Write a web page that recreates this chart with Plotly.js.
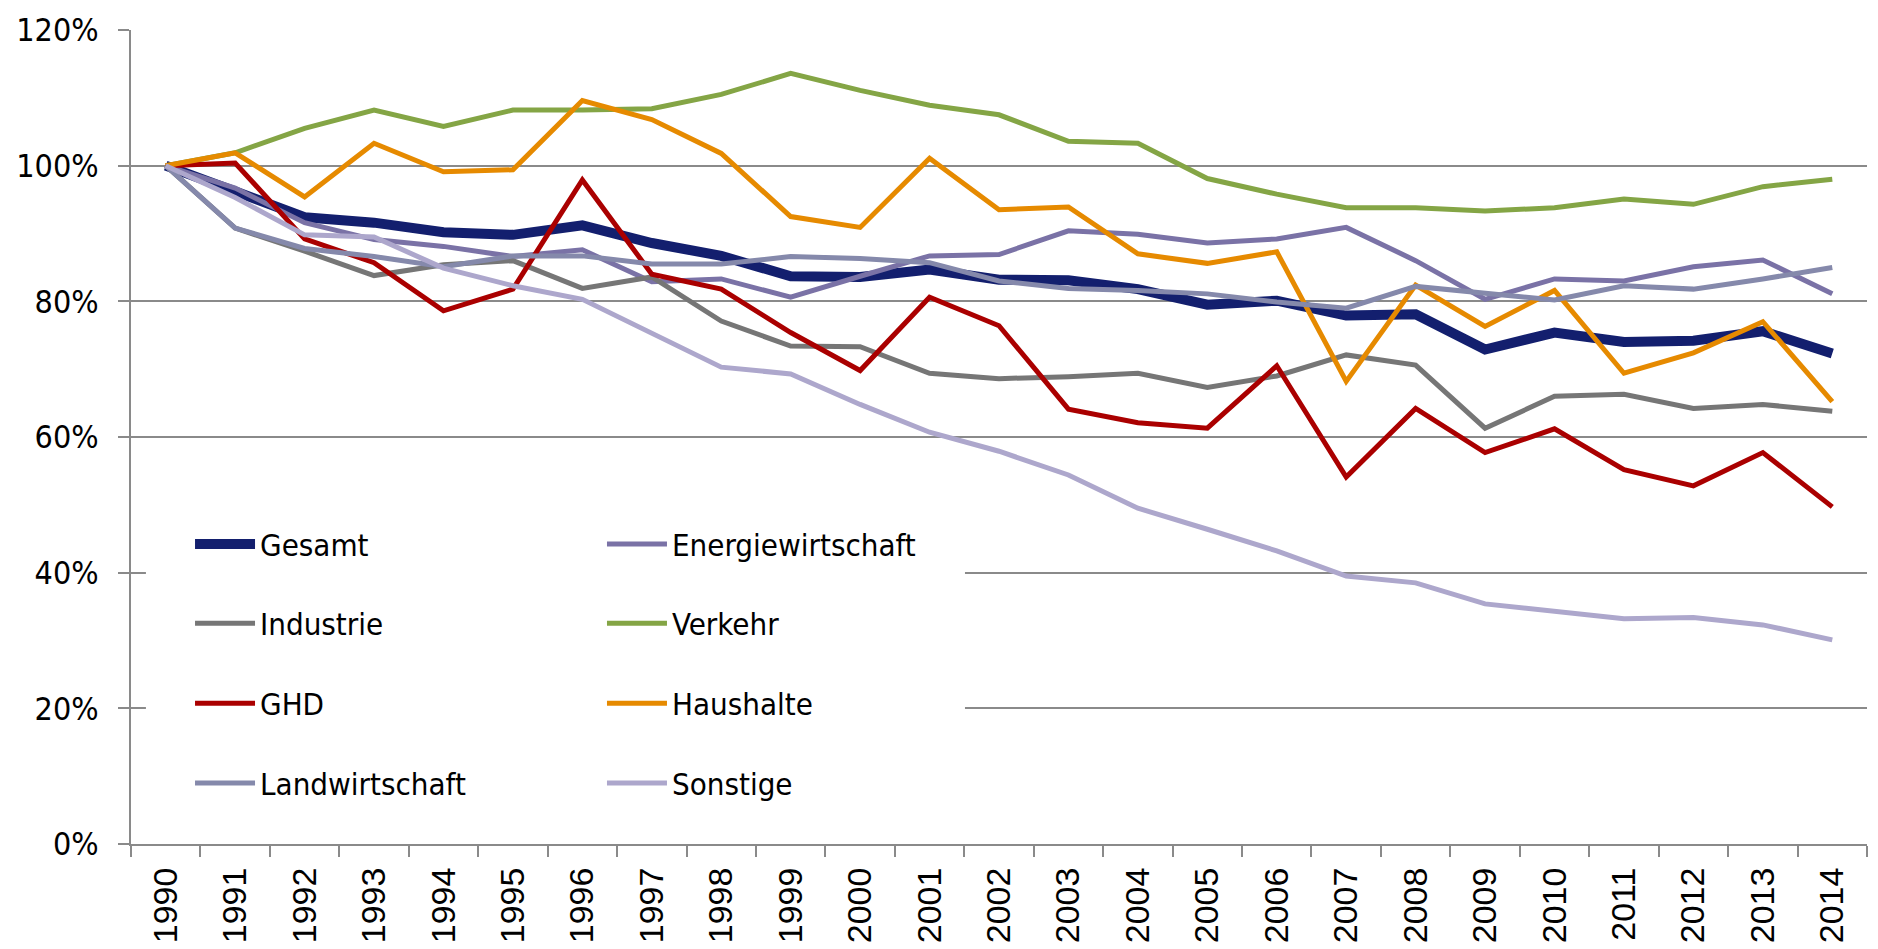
<!DOCTYPE html>
<html>
<head>
<meta charset="utf-8">
<script src="https://cdn.plot.ly/plotly-3.0.1.min.js"></script>
<style>html,body{margin:0;padding:0;background:#fff;}#chart{width:1878px;height:949px;}</style>
</head>
<body>
<div id="chart"></div>
<script>
const years = ['1990','1991','1992','1993','1994','1995','1996','1997','1998','1999','2000','2001','2002','2003','2004','2005','2006','2007','2008','2009','2010','2011','2012','2013','2014'];

const gesamt          = [100, 96.2, 92.4, 91.6, 90.2, 89.8, 91.2, 88.6, 86.7, 83.7, 83.6, 84.7, 83.2, 83.1, 81.8, 79.5, 80.1, 77.9, 78.1, 72.9, 75.4, 74.0, 74.2, 75.6, 72.3];
const energie         = [100, 96.7, 91.6, 89.1, 88.1, 86.6, 87.6, 82.9, 83.3, 80.6, 83.7, 86.7, 86.9, 90.4, 89.9, 88.6, 89.2, 90.9, 86.0, 80.3, 83.3, 83.0, 85.1, 86.1, 81.1];
const industrie       = [100, 90.8, 87.4, 83.8, 85.4, 86.0, 81.9, 83.6, 77.1, 73.4, 73.3, 69.4, 68.6, 68.9, 69.4, 67.3, 69.0, 72.1, 70.6, 61.3, 66.0, 66.3, 64.2, 64.8, 63.8];
const verkehr         = [100, 101.9, 105.5, 108.2, 105.8, 108.2, 108.2, 108.4, 110.5, 113.6, 111.1, 108.9, 107.5, 103.6, 103.3, 98.1, 95.8, 93.8, 93.8, 93.3, 93.8, 95.1, 94.3, 96.9, 98.0];
const ghd             = [100, 100.4, 89.2, 85.7, 78.6, 81.8, 97.9, 84.0, 81.8, 75.4, 69.8, 80.6, 76.4, 64.1, 62.1, 61.3, 70.5, 54.1, 64.2, 57.7, 61.2, 55.2, 52.8, 57.7, 49.7];
const haushalte       = [100, 101.9, 95.4, 103.3, 99.1, 99.4, 109.6, 106.8, 101.8, 92.5, 90.9, 101.1, 93.5, 93.9, 87.0, 85.6, 87.3, 68.2, 82.4, 76.3, 81.6, 69.4, 72.4, 77.0, 65.2];
const landwirtschaft  = [100, 90.8, 87.8, 86.6, 85.1, 86.7, 86.7, 85.5, 85.5, 86.6, 86.3, 85.7, 83.0, 81.9, 81.6, 81.1, 79.9, 79.0, 82.2, 81.2, 80.2, 82.3, 81.8, 83.3, 85.0];
const sonstige        = [100, 95.3, 89.8, 89.5, 84.9, 82.3, 80.3, 75.4, 70.3, 69.3, 64.8, 60.7, 57.9, 54.4, 49.5, 46.4, 43.2, 39.5, 38.5, 35.4, 34.3, 33.2, 33.4, 32.3, 30.1];

const seriesNames  = ['Gesamt','Energiewirtschaft','Industrie','Verkehr','GHD','Haushalte','Landwirtschaft','Sonstige'];
const seriesValues = [gesamt, energie, industrie, verkehr, ghd, haushalte, landwirtschaft, sonstige];
const seriesColors = ['#131F6E','#7A72A6','#767676','#84A545','#AA0000','#E68A00','#8589AB','#ADA7CC'];
const seriesWidths = [10, 5, 5, 5, 5, 5, 5, 5];
const yTicks = [0, 20, 40, 60, 80, 100, 120];
const yTickText = ['0%', '20%', '40%', '60%', '80%', '100%', '120%'];

// legend slot positions (paper coords): two columns, four rows
const legendX = [0.034, 0.2713];
const legendY = [0.368, 0.2708, 0.1725, 0.0746];

const traces = [];
const layoutLegends = {};
seriesNames.forEach((name, i) => {
  const key = i === 0 ? 'legend' : 'legend' + (i + 1);
  traces.push({
    type: 'scatter', mode: 'lines', name: name,
    x: years, y: seriesValues[i],
    line: {color: seriesColors[i], width: seriesWidths[i]},
    legend: key, hoverinfo: 'x+y+name'
  });
  layoutLegends[key] = {
    x: legendX[i % 2], y: legendY[Math.floor(i / 2)],
    xanchor: 'left', yanchor: 'middle',
    bgcolor: 'rgba(0,0,0,0)', borderwidth: 0,
    itemwidth: 60, itemclick: false, itemdoubleclick: false,
    font: {family: 'DejaVu Sans Condensed, DejaVu Sans, sans-serif', size: 31, color: '#000'}
  };
});

const layout = Object.assign({
  width: 1878, height: 949,
  margin: {l: 131, r: 11, t: 30, b: 105, autoexpand: false},
  paper_bgcolor: '#fff', plot_bgcolor: '#fff',
  showlegend: true,
  xaxis: {
    type: 'category', range: [-0.5, years.length - 0.5], autorange: false,
    tickangle: -90, tickson: 'boundaries',
    ticks: 'outside', ticklen: 11, tickwidth: 1.5, tickcolor: '#8a8a8a',
    showline: true, linecolor: '#8a8a8a', linewidth: 2,
    showgrid: false, zeroline: false, ticklabelstandoff: 8,
    tickfont: {family: 'Liberation Sans, Arial, sans-serif', size: 34, color: '#000'}
  },
  yaxis: {
    range: [0, 120], autorange: false, tickmode: 'array', tickvals: yTicks, ticktext: yTickText,
    ticks: 'outside', ticklen: 11, tickwidth: 1.5, tickcolor: '#8a8a8a',
    showline: true, linecolor: '#8a8a8a', linewidth: 2,
    showgrid: true, gridcolor: '#8a8a8a', gridwidth: 1.5, zeroline: false,
    ticklabelstandoff: 13,
    tickfont: {family: 'DejaVu Sans Condensed, DejaVu Sans, sans-serif', size: 32, color: '#000'}
  },
  shapes: [{
    type: 'rect', layer: 'above', xref: 'paper', yref: 'y',
    x0: 0.0086, x1: 0.4804, y0: 3, y1: 55,
    fillcolor: '#fff', line: {width: 0}
  }]
}, layoutLegends);

Plotly.newPlot('chart', traces, layout, {displayModeBar: false});
</script>
</body>
</html>
